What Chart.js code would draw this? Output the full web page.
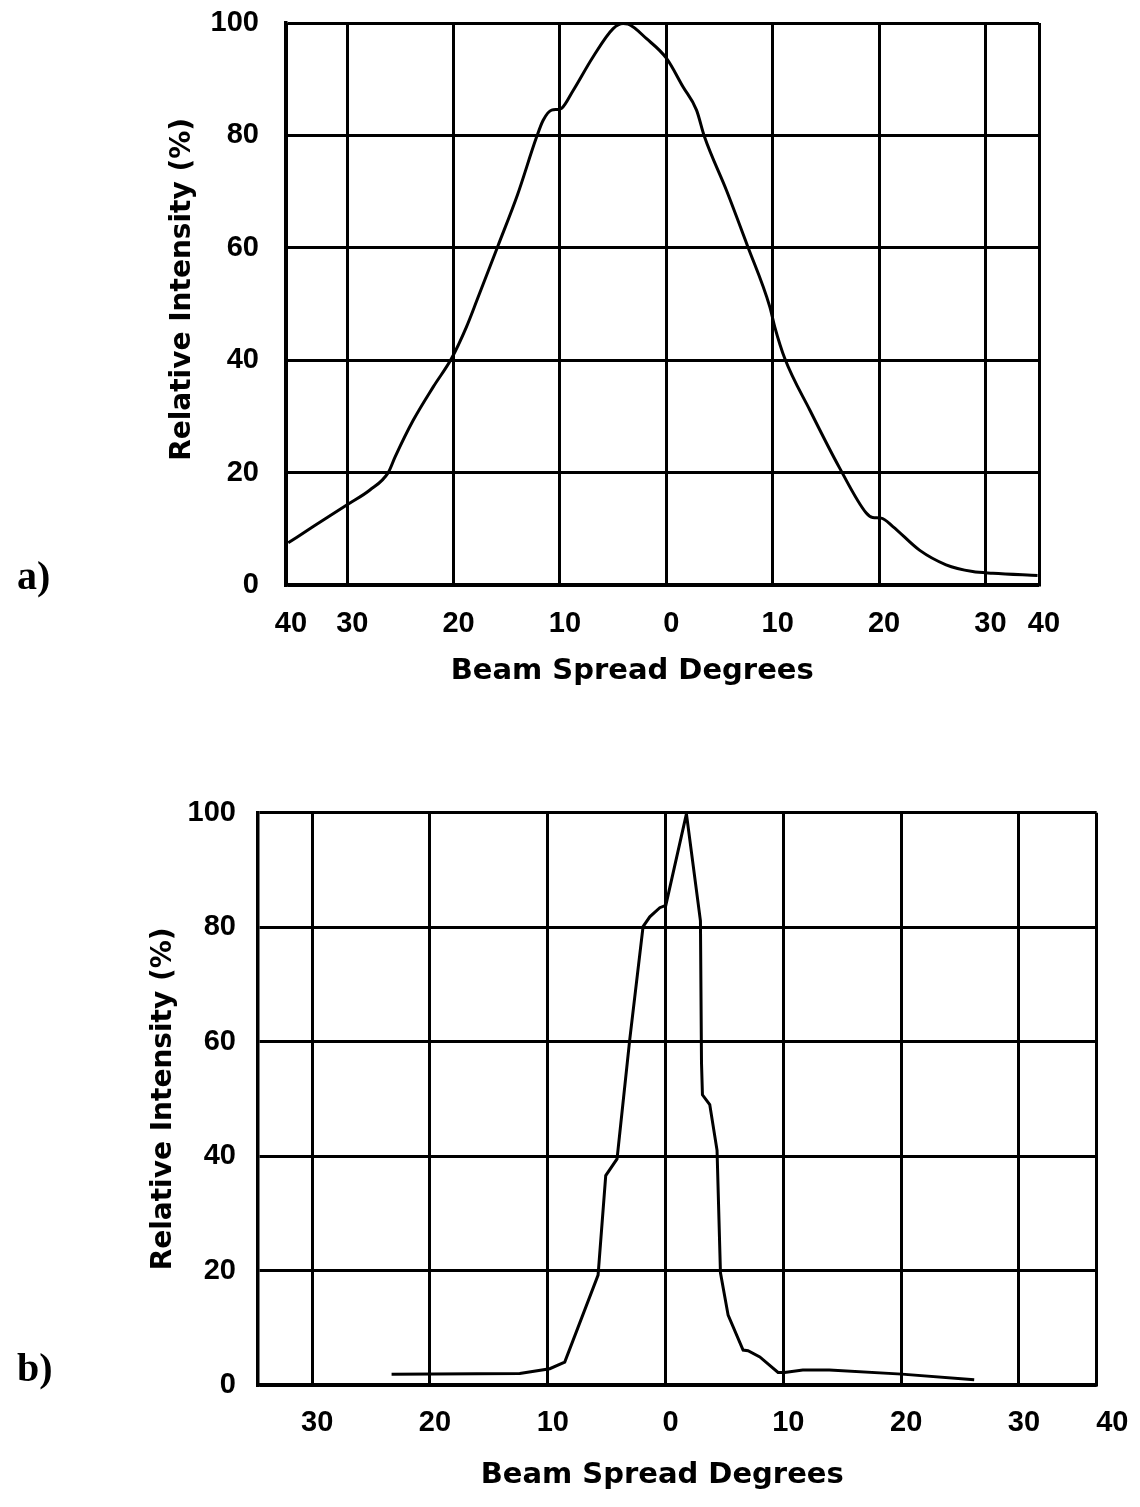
<!DOCTYPE html>
<html><head><meta charset="utf-8">
<script src="https://cdn.jsdelivr.net/npm/chart.js@4.4.1/dist/chart.umd.min.js"></script>
<style>
html,body{margin:0;padding:0;background:#fff;}
body{width:1140px;height:1507px;position:relative;overflow:hidden;}
canvas{position:absolute;left:0;}
#ca{top:0;}
#cb{top:780px;}
.tag{position:absolute;font-family:"Liberation Serif",serif;font-weight:bold;font-size:40px;color:#000;line-height:1;}
</style></head><body>
<canvas id="ca" width="1140" height="700"></canvas>
<canvas id="cb" width="1140" height="727"></canvas>
<div class="tag" style="left:17px;top:556px">a)</div>
<div class="tag" style="left:17px;top:1348px">b)</div>
<script>
// ---- chart a) data ----
const aDegrees   = [-35.55,-33.2,-29.9,-27.87,-26.15,-25.5,-23.8,-21.9,-20.2,-18.8,-17.8,-15.8,-14.0,-12.2,-11.58,-10.79,-10.26,-9.85,-8.76,-6.88,-5.0,-4.06,-3.59,-1.86,0.02,1.58,2.84,3.58,5.66,7.6,9.73,10.2,11.14,13.5,16.3,18.8,19.4,20.2,21.3,23.8,26.3,28.8,30.7,34.9];
const aIntensity = [7.5,10.4,14.4,16.9,20.0,22.8,29.3,35.3,40.3,45.9,50.7,60.5,69.4,79.7,82.7,84.5,84.6,84.8,88.0,94.0,99.0,99.9,99.8,97.2,93.7,88.6,84.5,79.8,70.2,60.5,49.5,45.9,40.3,31.1,20.8,12.8,12.0,11.9,10.4,6.2,3.6,2.4,2.1,1.7];
const aXMin = -35.76, aXMax = 35.04;
const aXTicks      = [-35.76,-30,-20,-10,0,10,20,30,35.04];
const aXTickLabels = ['40','30','20','10','0','10','20','30','40'];

// ---- chart b) data ----
const bDegrees   = [-23.26,-12.38,-9.83,-8.56,-5.73,-5.08,-4.12,-3.04,-1.91,-1.34,-0.49,0.02,1.77,2.96,3.05,3.13,3.75,4.37,4.66,5.31,6.58,7.0,8.0,9.55,10.1,11.65,13.9,20.05,26.2];
const bIntensity = [1.9,2.0,2.85,4.0,19.2,36.6,39.5,60.4,80.1,81.8,83.4,83.8,99.8,81.1,56.3,50.7,49.0,41.0,19.6,12.2,6.1,6.0,4.9,2.2,2.2,2.6,2.6,1.9,0.9];
const bXMin = -34.6, bXMax = 36.6;
const bXTicks      = [-30,-20,-10,0,10,20,30,36.6,37.5];
const bXTickLabels = ['30','20','10','0','10','20','30','','40'];

// ---- shared ----
const yTicks = [0,20,40,60,80,100];
const xTitle = 'Beam Spread Degrees';
const yTitle = 'Relative Intensity (%)';

Chart.defaults.font.family = '"DejaVu Sans", sans-serif';
Chart.defaults.font.weight = 'bold';
Chart.defaults.color = '#000';

const tickFont = { family: '"Liberation Sans", Arial, sans-serif', size: 29, weight: 'bold' };

function build(canvasId, degs, vals, opt) {
  return new Chart(document.getElementById(canvasId), {
    type: 'line',
    data: { datasets: [{
      data: degs.map((x, i) => ({ x: x, y: vals[i] })),
      borderColor: '#000', borderWidth: 3, pointRadius: 0, fill: false,
      tension: opt.tension, cubicInterpolationMode: opt.cubic
    }]},
    options: {
      responsive: false, animation: false, devicePixelRatio: 1,
      layout: { padding: opt.pad },
      plugins: { legend: { display: false }, tooltip: { enabled: false } },
      scales: {
        x: {
          type: 'linear', min: opt.xMin, max: opt.xMax,
          afterBuildTicks: s => { s.ticks = opt.xTicks.map(v => ({ value: v })); },
          afterFit: s => { s.height = opt.xHeight; s.paddingLeft = 0; s.paddingRight = 0; },
          grid: { color: c => (c.tick && c.tick.value > opt.xMax + 0.01) ? 'rgba(0,0,0,0)' : '#000', lineWidth: 3, drawTicks: false },
          border: { color: '#000', width: 3.5 },
          ticks: { autoSkip: false, maxRotation: 0, padding: opt.xTickPad, labelOffset: 5,
                   font: tickFont, callback: (v, i) => opt.xLabels[i] },
          title: { display: true, text: opt.xTitleText, font: { size: 29, weight: 'bold' },
                   padding: { top: 0, bottom: opt.xTitlePad } }
        },
        y: {
          min: 0, max: 100,
          afterBuildTicks: s => { s.ticks = yTicks.map(v => ({ value: v })); },
          afterFit: s => { s.width = opt.yWidth; s.paddingTop = 0; s.paddingBottom = 0; },
          grid: { color: '#000', lineWidth: 3, drawTicks: false },
          border: { color: '#000', width: 3.5 },
          ticks: { padding: opt.yTickPad, font: tickFont },
          title: { display: true, text: opt.yTitleText, font: { size: 28, weight: 'bold' },
                   padding: { top: opt.yTitlePad, bottom: 0 } }
        }
      }
    }
  });
}

build('ca', aDegrees, aIntensity, {
  tension: 0.4, cubic: 'monotone',
  pad: { left: 0, top: 23, right: 101, bottom: 0 },
  xMin: aXMin, xMax: aXMax, xTicks: aXTicks, xLabels: aXTickLabels,
  xHeight: 115, xTickPad: 21.6, xTitlePad: 10.8,
  xTitleText: xTitle + '      ',
  yWidth: 286, yTickPad: 27, yTitlePad: 165.8,
  yTitleText: '   ' + yTitle
});

build('cb', bDegrees, bIntensity, {
  tension: 0, cubic: 'default',
  pad: { left: 0, top: 32.7, right: 43.3, bottom: 0 },
  xMin: bXMin, xMax: bXMax, xTicks: bXTicks, xLabels: bXTickLabels,
  xHeight: 122, xTickPad: 20.9, xTitlePad: 13.8,
  xTitleText: xTitle + '   ',
  yWidth: 258, yTickPad: 22, yTitlePad: 146.8,
  yTitleText: yTitle
});
</script>
</body></html>
